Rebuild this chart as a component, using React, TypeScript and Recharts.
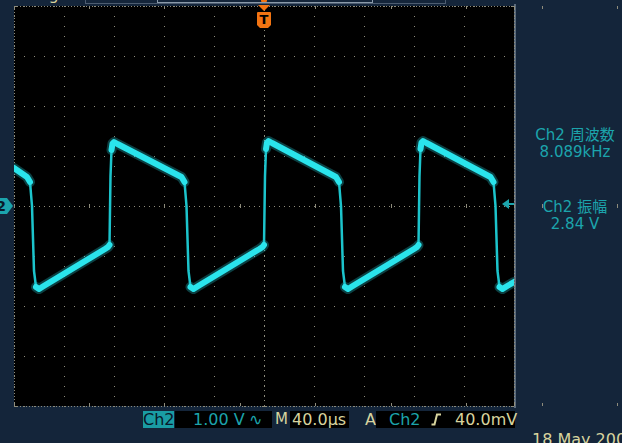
import React from 'react';
import { CartesianGrid, Line, LineChart, ReferenceLine, XAxis, YAxis } from 'recharts';

// Ch2 trace: time in µs (0 = trigger point), volts (1.00 V/div, 40.0 µs/div)
const TIME_US = [
  -200, -189.6, -187.2, -185.6, -184.0, -182.4, -180.0, -176.2, -127.2, -124.8,
  -123.6, -122.8, -122.0, -121.2, -120.0, -117.2, -66.0, -63.6, -62.0, -60.4, -58.8, -56.4, -52.6, -3.6, -1.2,
  0, 0.8, 1.6, 2.4, 3.6, 6.4, 57.6, 60.0, 61.6, 63.2, 64.8, 67.2, 71.0, 120.0, 122.4,
  123.6, 124.4, 125.2, 126.0, 127.2, 130.0, 181.2, 183.6, 185.2, 186.8, 188.4, 190.8, 194.6, 200,
];

const CH2_VOLTS = [
  0.76, 0.58, 0.48, 0.0, -1.3, -1.62, -1.66, -1.6, -0.86, -0.82,
  -0.78, 0.6, 1.12, 1.25, 1.28, 1.24, 0.58, 0.48, 0.0, -1.3, -1.62, -1.66, -1.6, -0.86, -0.82,
  -0.78, 0.6, 1.14, 1.27, 1.3, 1.26, 0.58, 0.48, 0.0, -1.3, -1.62, -1.66, -1.6, -0.86, -0.82,
  -0.78, 0.6, 1.14, 1.27, 1.3, 1.26, 0.58, 0.48, 0.0, -1.3, -1.62, -1.66, -1.6, -1.52,
];

// same trace without the fast edges: the scope draws those thin and dim
const CH2_PLATEAU_VOLTS = [
  0.76, 0.58, 0.48, null, null, -1.62, -1.66, -1.6, -0.86, -0.82,
  -0.78, null, 1.12, 1.25, 1.28, 1.24, 0.58, 0.48, null, null, -1.62, -1.66, -1.6, -0.86, -0.82,
  -0.78, null, 1.14, 1.27, 1.3, 1.26, 0.58, 0.48, null, null, -1.62, -1.66, -1.6, -0.86, -0.82,
  -0.78, null, 1.14, 1.27, 1.3, 1.26, 0.58, 0.48, null, null, -1.62, -1.66, -1.6, -1.52,
];

const TIME_TICKS_US = [-200, -160, -120, -80, -40, 0, 40, 80, 120, 160, 200];
const VOLT_TICKS = [-4, -3, -2, -1, 0, 1, 2, 3, 4];
const TIME_MINOR_TICKS_US = Array.from({ length: 51 }, (_, i) => -200 + i * 8);
const VOLT_MINOR_TICKS = Array.from({ length: 41 }, (_, i) => -4 + i * 0.2);

const TRIGGER_LEVEL_V = 0.04;

const MEASUREMENTS = [
  { label: 'Ch2 周波数', value: '8.089kHz', top: 127 },
  { label: 'Ch2 振幅', value: '2.84 V', top: 199 },
];

const WIDTH = 622;
const HEIGHT = 443;
const PLOT_LEFT = 14;
const PLOT_TOP = 6;
const PLOT_W = 500;
const PLOT_H = 400;

const FONT = '"DejaVu Sans", "Noto Sans CJK JP", sans-serif';
const BG = '#14253a';
const GRID = '#8e8c7c';
const TEAL = '#1ca4ac';
const TRACE = '#2ae4ec';
const BEIGE = '#d8d49e';
const ORANGE = '#f27412';

const rows = TIME_US.map((t, i) => ({ t, v: CH2_VOLTS[i], plateau: CH2_PLATEAU_VOLTS[i] }));

function TriggerMark(props: any) {
  const { viewBox } = props;
  const cx = viewBox.x;
  const top = viewBox.y;
  return (
    <g>
      <rect x={cx - 3} y={top - 7} width={6} height={3} rx={1} fill={ORANGE} />
      <path d={`M${cx - 6},${top - 1} H${cx + 6} L${cx},${top + 5} Z`} fill={ORANGE} />
      <path
        d={`M${cx - 7},${top + 7} Q${cx - 7},${top + 6} ${cx - 6},${top + 6} H${cx + 6} Q${cx + 7},${top + 6} ${cx + 7},${top + 7} V${top + 19} L${cx + 4},${top + 22} H${cx - 4} L${cx - 7},${top + 19} Z`}
        fill={ORANGE}
      />
      <text x={cx} y={top + 18} textAnchor="middle" fontSize={13} fontWeight="bold" fill="#000" fontFamily={FONT}>
        T
      </text>
    </g>
  );
}

function ChannelMark(props: any) {
  const { viewBox } = props;
  const tip = viewBox.x - 1;
  const y = viewBox.y;
  return (
    <g>
      <path d={`M${tip - 22},${y - 8} H${tip - 6} L${tip},${y} L${tip - 6},${y + 8} H${tip - 22} Z`} fill={TEAL} />
      <text x={tip - 12} y={y + 5} textAnchor="middle" fontSize={14} fontWeight="bold" fill="#0a1a2a" fontFamily={FONT}>
        2
      </text>
    </g>
  );
}

function TriggerLevelMark(props: any) {
  const { viewBox } = props;
  const right = viewBox.x + viewBox.width;
  const y = viewBox.y;
  return (
    <g>
      <path d={`M${right - 12},${y} L${right - 5},${y - 5} V${y + 5} Z`} fill={TEAL} />
      <line x1={right - 6} x2={right} y1={y} y2={y} stroke={TEAL} strokeWidth={2} />
    </g>
  );
}

function StatusBar() {
  const base: React.CSSProperties = { position: 'absolute', top: 411, height: 17, lineHeight: '17px', whiteSpace: 'nowrap' };
  return (
    <>
      <div style={{ ...base, left: 143, width: 31, background: '#1a9ca4', color: '#08182a', textAlign: 'center' }}>Ch2</div>
      <div style={{ ...base, left: 175, width: 97, background: '#000' }} />
      <span style={{ ...base, left: 193, color: TEAL }}>1.00 V</span>
      <span style={{ ...base, left: 249, color: TEAL }}>∿</span>
      <span style={{ ...base, left: 275, color: BEIGE, fontSize: 15 }}>M</span>
      <div style={{ ...base, left: 290, width: 59, background: '#000' }} />
      <span style={{ ...base, left: 292, color: BEIGE }}>40.0µs</span>
      <span style={{ ...base, left: 365, color: BEIGE }}>A</span>
      <div style={{ ...base, left: 376, width: 139, background: '#000' }} />
      <span style={{ ...base, left: 389, color: TEAL }}>Ch2</span>
      <svg style={{ position: 'absolute', left: 431, top: 413 }} width={11} height={13}>
        <path d="M0.5,11.5 H3.5 L6,1.5 H10" fill="none" stroke={BEIGE} strokeWidth={2} />
      </svg>
      <span style={{ ...base, left: 455, color: BEIGE }}>40.0mV</span>
      <span style={{ ...base, top: 431, left: 532, color: BEIGE }}>18 May 200</span>
    </>
  );
}

export default function App() {
  return (
    <div
      style={{
        position: 'fixed',
        left: 0,
        top: 0,
        width: WIDTH,
        height: HEIGHT,
        background: BG,
        overflow: 'hidden',
        fontFamily: FONT,
        fontSize: 16,
      }}
    >
      <style>{`.recharts-cartesian-grid line, .recharts-reference-line-line { shape-rendering: crispEdges; }`}</style>

      {/* record-length strip at the top edge, mostly off screen */}
      <div style={{ position: 'absolute', left: 85, top: -10, width: 359, height: 12, border: '1px solid #4c5c70' }} />
      <div style={{ position: 'absolute', left: 157, top: -6, width: 214, height: 8, border: '1px solid #8a9aaa', borderTop: 'none' }} />
      <span style={{ position: 'absolute', left: 0, top: -13, color: '#6a5ae0', lineHeight: '16px' }}>Tek</span>
      <span style={{ position: 'absolute', left: 30, top: -13, color: BEIGE, lineHeight: '16px' }}>Trig'd</span>
      <span style={{ position: 'absolute', left: 455, top: -13, color: BEIGE, lineHeight: '16px' }}>M 0.000s</span>

      <div style={{ position: 'absolute', left: PLOT_LEFT + PLOT_W, top: 4, width: 2, height: PLOT_H + 4, background: '#5a6a7c' }} />

      <LineChart
        width={WIDTH}
        height={HEIGHT}
        data={rows}
        margin={{ top: PLOT_TOP, right: WIDTH - PLOT_LEFT - PLOT_W, bottom: HEIGHT - PLOT_TOP - PLOT_H, left: PLOT_LEFT }}
        style={{ position: 'absolute', left: 0, top: 0 }}
      >
        <XAxis xAxisId="major" dataKey="t" type="number" domain={[-200, 200]} ticks={TIME_TICKS_US} allowDataOverflow hide />
        <XAxis xAxisId="minor" type="number" domain={[-200, 200]} ticks={TIME_MINOR_TICKS_US} interval={0} hide />
        <YAxis yAxisId="major" type="number" domain={[-4, 4]} ticks={VOLT_TICKS} allowDataOverflow hide />
        <YAxis yAxisId="minor" type="number" domain={[-4, 4]} ticks={VOLT_MINOR_TICKS} interval={0} hide />

        <CartesianGrid xAxisId="major" yAxisId="major" stroke={GRID} strokeDasharray="1 9" fill="#000" fillOpacity={1} />
        {/* minor ticks on the centre crosshair */}
        <CartesianGrid xAxisId="minor" yAxisId="major" horizontal={false} y={PLOT_TOP + PLOT_H / 2 - 2} height={4} stroke={GRID} />
        <CartesianGrid xAxisId="major" yAxisId="minor" vertical={false} x={PLOT_LEFT + PLOT_W / 2 - 2} width={4} stroke={GRID} />
        {/* minor ticks along the frame */}
        <CartesianGrid xAxisId="minor" yAxisId="major" horizontal={false} y={PLOT_TOP} height={3} stroke={GRID} />
        <CartesianGrid xAxisId="minor" yAxisId="major" horizontal={false} y={PLOT_TOP + PLOT_H - 3} height={3} stroke={GRID} />
        <CartesianGrid xAxisId="major" yAxisId="minor" vertical={false} x={PLOT_LEFT} width={3} stroke={GRID} />
        <CartesianGrid xAxisId="major" yAxisId="minor" vertical={false} x={PLOT_LEFT + PLOT_W - 3} width={3} stroke={GRID} />

        <ReferenceLine xAxisId="major" yAxisId="major" x={0} stroke={GRID} strokeDasharray="1 4" />
        <ReferenceLine xAxisId="major" yAxisId="major" y={0} stroke={GRID} strokeDasharray="1 4" />
        <ReferenceLine xAxisId="major" yAxisId="major" x={-200} stroke={GRID} strokeDasharray="1 2" />
        <ReferenceLine xAxisId="major" yAxisId="major" x={200} stroke={GRID} strokeDasharray="1 2" />
        <ReferenceLine xAxisId="major" yAxisId="major" y={4} stroke={GRID} strokeDasharray="1 2" />
        <ReferenceLine xAxisId="major" yAxisId="major" y={-4} stroke={GRID} strokeDasharray="1 2" />

        <Line
          xAxisId="major"
          yAxisId="major"
          type="linear"
          dataKey="plateau"
          stroke={TRACE}
          strokeOpacity={0.28}
          strokeWidth={10}
          strokeLinecap="round"
          strokeLinejoin="round"
          dot={false}
          activeDot={false}
          isAnimationActive={false}
        />
        <Line
          xAxisId="major"
          yAxisId="major"
          type="linear"
          dataKey="v"
          stroke="#1cc4cc"
          strokeWidth={2.5}
          dot={false}
          activeDot={false}
          isAnimationActive={false}
        />
        <Line
          xAxisId="major"
          yAxisId="major"
          type="linear"
          dataKey="plateau"
          stroke={TRACE}
          strokeWidth={6}
          strokeLinecap="round"
          strokeLinejoin="round"
          dot={false}
          activeDot={false}
          isAnimationActive={false}
        />

        <ReferenceLine xAxisId="major" yAxisId="major" x={0} stroke="none" label={TriggerMark} />
        <ReferenceLine xAxisId="major" yAxisId="major" y={0} stroke="none" label={ChannelMark} />
        <ReferenceLine xAxisId="major" yAxisId="major" y={TRIGGER_LEVEL_V} stroke="none" label={TriggerLevelMark} />
      </LineChart>

      {MEASUREMENTS.map((m) => (
        <div
          key={m.label}
          style={{ position: 'absolute', left: 528, top: m.top, width: 94, textAlign: 'center', color: TEAL, fontSize: 15, lineHeight: '17px' }}
        >
          <div>{m.label}</div>
          <div>{m.value}</div>
        </div>
      ))}

      <StatusBar />
    </div>
  );
}
